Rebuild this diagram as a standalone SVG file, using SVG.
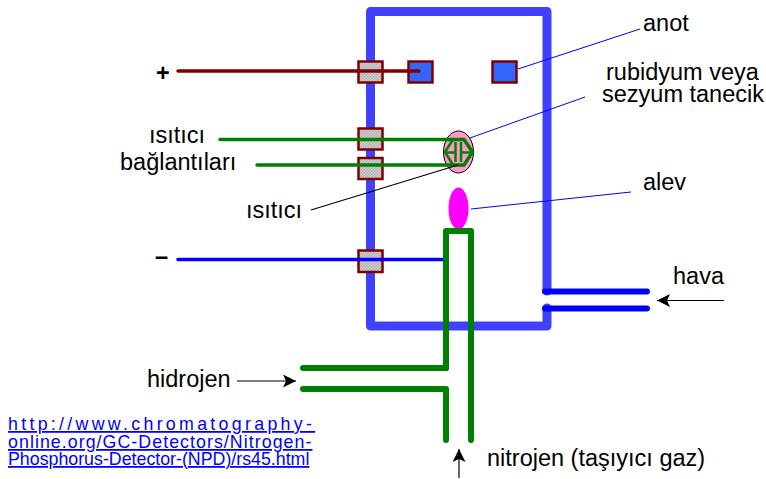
<svg xmlns="http://www.w3.org/2000/svg" width="766" height="479" viewBox="0 0 766 479">
<defs>
<pattern id="hatch" width="3" height="3" patternUnits="userSpaceOnUse"><rect width="3" height="3" fill="#c8c8c8"/><path d="M0 3L3 0" stroke="#aaa" stroke-width=".7"/></pattern>
<marker id="ah" markerWidth="14" markerHeight="14" refX="13" refY="6.500" orient="auto" markerUnits="userSpaceOnUse"><path d="M0 0L13 6.500L0 13L3 6.500Z" fill="#000"/></marker>
</defs>
<style>
text{font-family:"Liberation Sans",Arial,sans-serif;font-size:23.500px;fill:#000}
.sq{fill:url(#hatch);stroke:#800000;stroke-width:2.500}
.bl{fill:#3366ff;stroke:#800000;stroke-width:2.500}
.g{fill:none;stroke:#008000;stroke-width:6;stroke-linecap:round;stroke-linejoin:round}
.lk{font-size:17.800px;fill:#0000ff;text-decoration:underline}
.lead{stroke:#0000ff;stroke-width:1;fill:none}
.lk2{stroke:#000;stroke-width:1.200;fill:none}
</style>
<g id="chamber"><path d="M547 291V11.500H370.500V326H547V308" fill="none" stroke="#4040ff" stroke-width="9" stroke-linejoin="round" stroke-linecap="round"/></g>
<g id="port-plus"><rect class="sq" x="358.500" y="61.500" width="24" height="21"/></g>
<g id="port-heat1"><rect class="sq" x="358.500" y="128.500" width="24" height="21"/></g>
<g id="port-heat2"><rect class="sq" x="358.500" y="158" width="24" height="21"/></g>
<g id="port-minus"><rect class="sq" x="358.500" y="250.500" width="24" height="21.500"/></g>
<g id="electrode"><rect class="bl" x="408.500" y="61.500" width="24" height="21"/></g>
<g id="anode"><rect class="bl" x="492.500" y="61.500" width="24" height="21"/></g>
<g id="bead"><ellipse cx="458.500" cy="152" rx="15" ry="21" fill="#ff99cc" stroke="#000" stroke-width="1"/></g>
<g id="flame"><ellipse cx="458.500" cy="208.500" rx="10" ry="21" fill="#ff00ff"/></g>
<g id="connectors">
<path d="M178 71H419" stroke="#800000" stroke-width="3.500" stroke-linecap="round"/>
<path d="M220 139.500H464L472.500 152L464 165H257" fill="none" stroke="#008000" stroke-width="3.500" stroke-linecap="round" stroke-linejoin="miter"/>
<path d="M464 139.500H453L445 152L453 165H464" fill="none" stroke="#008000" stroke-width="2.500"/>
<path d="M455.500 142V162M461 142V162M447 152.500H455.500M461 152.500H471" fill="none" stroke="#008000" stroke-width="2.500"/>
<path d="M178 259.500H445" stroke="#0000ff" stroke-width="3.500" stroke-linecap="round"/>
<path class="g" d="M446 368V231H471V440"/>
<path class="g" d="M303 368H446"/>
<path class="g" d="M303 389H446V440"/>
<path d="M545 291.500H647M545 308.500H647" stroke="#0000ff" stroke-width="6" stroke-linecap="round"/>
<path class="lead" d="M518 69L640 29"/>
<path class="lead" d="M470 138L585 97"/>
<path class="lead" d="M471 209L631 192"/>
<path class="lk2" d="M311 210L458 165"/>
<path class="lk2" d="M237 381H296" marker-end="url(#ah)"/>
<path class="lk2" d="M724 300.500H657" marker-end="url(#ah)"/>
<path class="lk2" d="M459 478V449" marker-end="url(#ah)"/>
</g>
<g id="labels">
<text x="156" y="81" style="font-weight:bold">+</text>
<text x="155" y="264" style="font-weight:bold">–</text>
<text x="643" y="31">anot</text>
<text x="606" y="80">rubidyum veya</text>
<text x="602" y="102">sezyum tanecik</text>
<text x="149" y="143">ısıtıcı</text>
<text x="120" y="170">bağlantıları</text>
<text x="246" y="218">ısıtıcı</text>
<text x="643" y="190">alev</text>
<text x="673" y="284">hava</text>
<text x="147" y="387">hidrojen</text>
<text x="487" y="466">nitrojen (taşıyıcı gaz)</text>
<text class="lk" x="8" y="430" style="letter-spacing:3.300px">http://www.chromatography-</text>
<text class="lk" x="8" y="448" style="letter-spacing:1.050px">online.org/GC-Detectors/Nitrogen-</text>
<text class="lk" x="8" y="465">Phosphorus-Detector-(NPD)/rs45.html</text>
</g>
</svg>
